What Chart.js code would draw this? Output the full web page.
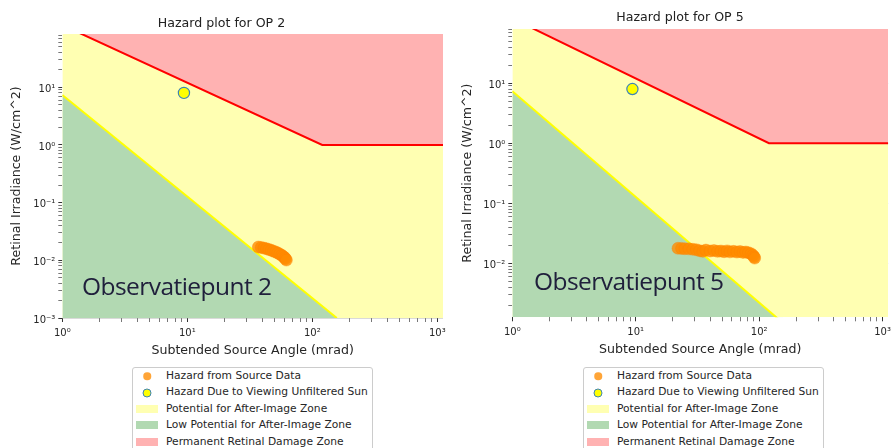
<!DOCTYPE html>
<html>
<head>
<meta charset="utf-8">
<script src="https://cdn.jsdelivr.net/npm/chart.js@4.4.1/dist/chart.umd.min.js"></script>
<style>
  html, body { margin: 0; padding: 0; background: #ffffff; }
  body { width: 895px; height: 448px; position: relative; overflow: hidden; font-family: "DejaVu Sans", sans-serif; }
  .holder { position: absolute; top: 0; }
  .legend { position: absolute; top: 367px; width: 239px; height: 100px; border: 1px solid #cccccc; border-radius: 3px; background: #ffffff; box-sizing: content-box; }
  .legend .row { position: relative; height: 16.4px; line-height: 16.4px; font-size: 10.7px; color: #262626; white-space: nowrap; }
  .legend .mk { position: absolute; top: 50%; transform: translate(-50%, -50%); box-sizing: border-box; }
  .legend .txt { position: absolute; left: 33px; top: 0; }
  .stamp { position: absolute; font-family: "Open Sans", sans-serif; font-size: 24.5px; line-height: 24.5px; color: #20203c; letter-spacing: -0.55px; white-space: nowrap; }
</style>
</head>
<body>
<div class="holder" style="left:0px"><canvas id="op2" width="450" height="362"></canvas></div>
<div class="holder" style="left:450px"><canvas id="op5" width="445" height="362"></canvas></div>
<div class="stamp" id="stamp2" style="left:82px; top:274px;">Observatiepunt 2</div>
<div class="stamp" id="stamp5" style="left:534px; top:268.5px;">Observatiepunt 5</div>
<div class="legend" id="legend2" style="left:132px;"></div>
<div class="legend" id="legend5" style="left:583px;"></div>
<script>
// ---------------- data ----------------
const chartTitles = ['Hazard plot for OP 2', 'Hazard plot for OP 5'];
const xAxisTitle = 'Subtended Source Angle (mrad)';
const yAxisTitle = 'Retinal Irradiance (W/cm^2)';
const seriesLabels = [
  'Hazard from Source Data',
  'Hazard Due to Viewing Unfiltered Sun',
  'Potential for After-Image Zone',
  'Low Potential for After-Image Zone',
  'Permanent Retinal Damage Zone'
];

// axis ranges
const xRange = [1, 1110];
const op2YRange = [0.001, 84];
const op5YRange = [0.00126, 80];

// log tick decades and labels
const tickDecades = [0.001, 0.01, 0.1, 1, 10, 100, 1000];
const tickDecadeLabels = ['10\u207B\u00B3', '10\u207B\u00B2', '10\u207B\u00B9', '10\u2070', '10\u00B9', '10\u00B2', '10\u00B3'];
const tickSteps = [1, 2, 3, 4, 5, 6, 7, 8, 9];

// zone boundaries
const damageLineX = [1, 120, 1110];
const damageLineY = [120, 1, 1];
const afterImageLineX = [1, 157];
const afterImageLineY = [7.35, 0.001];

// unfiltered sun
const sunX = [9.4];
const sunY = [8.0];

// OP 2 source data
const op2X = [37, 39, 41, 43, 45, 47, 49, 51, 53, 55, 57, 58.5, 60, 61, 62];
const op2Y = [0.0170, 0.0167, 0.0163, 0.0159, 0.0154, 0.0149, 0.0144, 0.0139, 0.0134, 0.0128, 0.0122, 0.0117, 0.0111, 0.0106, 0.0101];

// OP 5 source data
const op5X = [22, 23.5, 25, 27, 29, 31, 33, 35, 37, 40, 43, 46, 49, 52, 55, 58, 62, 66, 70, 74, 78, 82, 86, 89, 91, 92];
const op5Y = [0.0178, 0.0177, 0.0175, 0.0174, 0.0171, 0.0168, 0.0162, 0.0158, 0.0166, 0.0160, 0.0163, 0.0158, 0.0160, 0.0156, 0.0161, 0.0155, 0.0158, 0.0154, 0.0157, 0.0152, 0.0154, 0.0150, 0.0144, 0.0136, 0.0128, 0.0122];

// ---------------- styling ----------------
const colYellowZone = '#ffffb2';
const colGreenZone = '#b2d9b2';
const colRedZone = '#ffb2b2';
const colSource = 'rgba(255,140,0,0.78)';
const colSun = '#ffff00';
const colSunEdge = '#3d85b5';
const textCol = '#262626';

function pts(xs, ys) { return xs.map((x, i) => ({x: x, y: ys[i]})); }

function isDecade(v) {
  const l = Math.log10(v);
  return Math.abs(l - Math.round(l)) < 1e-9;
}
function decadeLabel(v) {
  if (!isDecade(v)) return '';
  const i = tickDecades.findIndex(d => Math.abs(Math.log10(d) - Math.log10(v)) < 1e-9);
  return i >= 0 ? tickDecadeLabels[i] : '';
}
function buildTicks(scale) {
  const out = [];
  for (const d of tickDecades) {
    for (const s of tickSteps) {
      const v = d * s;
      if (v >= scale.min * 0.9999 && v <= scale.max * 1.0001) out.push({value: v, major: s === 1});
    }
  }
  scale.ticks = out;
}

function makeChart(id, title, srcX, srcY, yRange, geo) {
  const datasets = [
    { type: 'scatter', label: seriesLabels[0], data: pts(srcX, srcY), pointRadius: 6, pointHoverRadius: 6,
      backgroundColor: colSource, borderColor: 'rgba(255,125,0,0.6)', borderWidth: 0.6, order: 0,
      legendMarker: 'dot' },
    { type: 'scatter', label: seriesLabels[1], data: pts(sunX, sunY), pointRadius: 5.6, pointHoverRadius: 5.6,
      backgroundColor: colSun, borderColor: colSunEdge, borderWidth: 1.2, order: 0,
      legendMarker: 'sun' },
    { type: 'line', label: seriesLabels[2], data: pts(damageLineX, damageLineY), fill: 'start',
      backgroundColor: colYellowZone, borderWidth: 0, borderColor: 'rgba(0,0,0,0)', pointRadius: 0, tension: 0, order: 3,
      legendMarker: 'patch' },
    { type: 'line', label: seriesLabels[3], data: pts(afterImageLineX, afterImageLineY), fill: 'start',
      backgroundColor: colGreenZone, borderColor: '#ffff00', borderWidth: 2, pointRadius: 0, tension: 0, order: 2,
      legendMarker: 'patch' },
    { type: 'line', label: seriesLabels[4], data: pts(damageLineX, damageLineY), fill: 'end',
      backgroundColor: colRedZone, borderColor: '#ff0000', borderWidth: 2, pointRadius: 0, tension: 0, order: 2,
      legendMarker: 'patch' }
  ];
  return new Chart(document.getElementById(id), {
    type: 'scatter',
    data: { datasets: datasets },
    options: {
      responsive: false,
      animation: false,
      events: [],
      layout: { padding: geo.padding },
      plugins: {
        legend: { display: false },
        tooltip: { enabled: false },
        title: { display: true, text: title, color: '#222222',
          font: { family: 'DejaVu Sans', size: 12.6, weight: 'normal', lineHeight: 1 },
          padding: geo.titlePad }
      },
      scales: {
        x: {
          type: 'logarithmic', min: xRange[0], max: xRange[1],
          afterBuildTicks: buildTicks,
          afterFit: s => { s.height = geo.xHeight; s.paddingLeft = 0; s.paddingRight = 0; },
          border: { display: false },
          grid: { drawOnChartArea: false, drawTicks: true, tickLength: 4,
            tickColor: c => c.tick && c.tick.major ? '#333333' : '#555555',
            tickWidth: c => c.tick && c.tick.major ? 1 : 0.8 },
          ticks: { autoSkip: false, maxRotation: 0, padding: 5, color: textCol,
            font: { family: 'DejaVu Sans', size: 10 },
            callback: v => decadeLabel(v) },
          title: { display: true, text: xAxisTitle, color: textCol,
            font: { family: 'DejaVu Sans', size: 12.6, lineHeight: 1.2 },
            padding: { top: 0, bottom: geo.xTitleBottom } }
        },
        y: {
          type: 'logarithmic', min: yRange[0], max: yRange[1], z: 1,
          afterBuildTicks: buildTicks,
          afterFit: s => { s.width = geo.yWidth; s.paddingTop = 0; s.paddingBottom = 0; },
          border: { display: false },
          grid: { drawOnChartArea: true, drawTicks: true, tickLength: 4,
            color: c => c.tick && isDecade(c.tick.value) ? 'rgba(150,150,150,0.35)' : 'rgba(0,0,0,0)',
            tickColor: c => c.tick && isDecade(c.tick.value) ? '#333333' : '#555555',
            tickWidth: c => c.tick && isDecade(c.tick.value) ? 1 : 0.8 },
          ticks: { autoSkip: false, padding: 3, labelOffset: 2, color: textCol,
            font: { family: 'DejaVu Sans', size: 10 },
            callback: v => decadeLabel(v) },
          title: { display: true, text: yAxisTitle, color: textCol,
            font: { family: 'DejaVu Sans', size: 12.6, lineHeight: 1.2 },
            padding: { top: geo.yTitleTop, bottom: 0 } }
        }
      }
    }
  });
}

function buildLegend(el, chart) {
  chart.data.datasets.forEach(ds => {
    const row = document.createElement('div');
    row.className = 'row';
    const mk = document.createElement('span');
    mk.className = 'mk';
    if (ds.legendMarker === 'dot') {
      mk.style.cssText += 'left:14px;width:7.5px;height:7.5px;border-radius:50%;background:' + ds.backgroundColor + ';';
    } else if (ds.legendMarker === 'sun') {
      mk.style.cssText += 'left:14px;width:9px;height:9px;border-radius:50%;background:' + ds.backgroundColor + ';border:1.3px solid ' + ds.borderColor + ';';
    } else {
      mk.style.cssText += 'left:14px;width:22px;height:8px;background:' + ds.backgroundColor + ';';
    }
    const tx = document.createElement('span');
    tx.className = 'txt';
    tx.textContent = ds.label;
    row.appendChild(mk);
    row.appendChild(tx);
    el.appendChild(row);
  });
}

const chart2 = makeChart('op2', chartTitles[0], op2X, op2Y, op2YRange, {
  padding: { left: 0, right: 7, top: 0, bottom: 0 },
  titlePad: { top: 17.7, bottom: 3.7 },
  yWidth: 62.3, yTitleTop: 9.5, xHeight: 44, xTitleBottom: 3.4
});
const chart5 = makeChart('op5', chartTitles[1], op5X, op5Y, op5YRange, {
  padding: { left: 16.7, right: 1.7, top: 0, bottom: 0 },
  titlePad: { top: 11, bottom: 5.4 },
  yWidth: 45.6, yTitleTop: -7, xHeight: 44.7, xTitleBottom: 4.4
});
buildLegend(document.getElementById('legend2'), chart2);
buildLegend(document.getElementById('legend5'), chart5);
</script>
</body>
</html>
